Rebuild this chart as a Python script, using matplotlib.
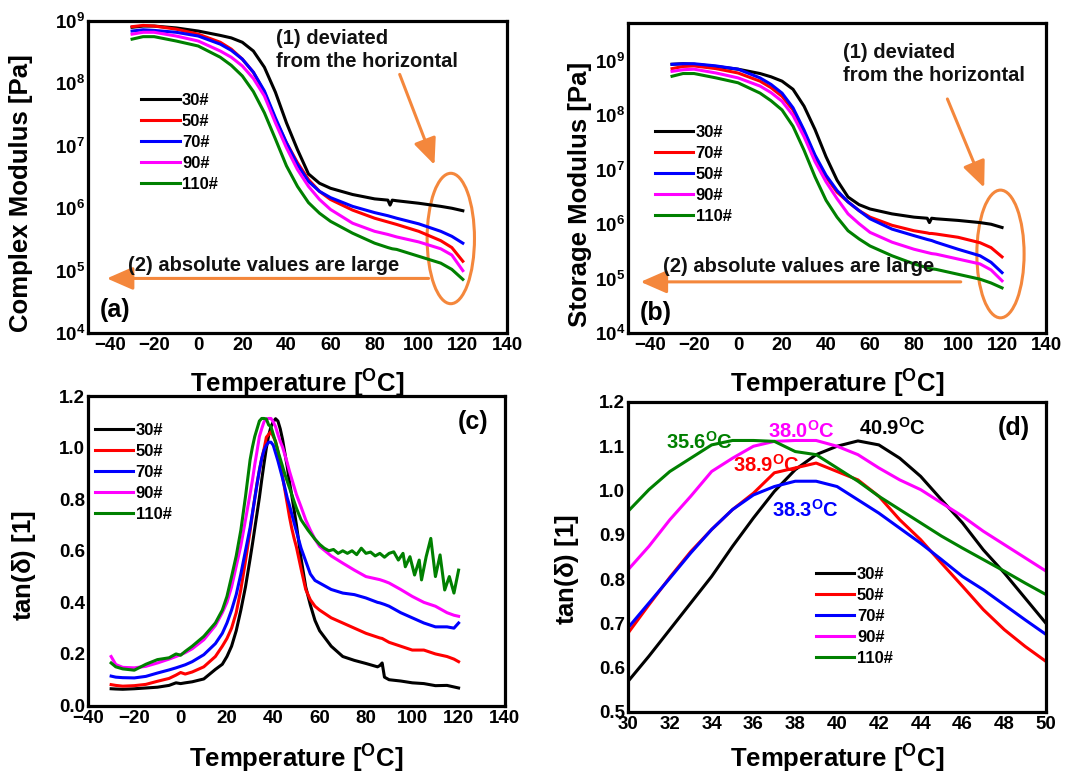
import numpy as np
import matplotlib
matplotlib.use('Agg')
import matplotlib.pyplot as plt
from matplotlib.patches import Ellipse
from matplotlib.ticker import FixedLocator, FuncFormatter, NullLocator

plt.rcParams['font.family'] = ['Liberation Sans', 'DejaVu Sans']
plt.rcParams['font.weight'] = 'bold'
plt.rcParams['axes.labelweight'] = 'bold'
plt.rcParams['mathtext.fontset'] = 'custom'
plt.rcParams['mathtext.rm'] = 'Liberation Sans:bold'
plt.rcParams['mathtext.bf'] = 'Liberation Sans:bold'
plt.rcParams['mathtext.it'] = 'Liberation Sans:bold'

# ---- data ----
samples = ['30#', '50#', '70#', '90#', '110#']
colors = ['#000000', '#ff0000', '#0000ff', '#ff00ff', '#008000']
labels_b = ['30#', '70#', '50#', '90#', '110#']   # legend order as printed in (b)

# temperature for modulus curves, degC
T_mod = [-30, -25, -20, -10, 0, 10, 15, 20, 25, 30, 35, 40, 45, 50, 55, 60, 70, 80,
         86, 87, 88, 90, 100, 110, 115, 120]

# (a) complex modulus, log10(Pa)
logG_30 = [8.90, 8.92, 8.92, 8.89, 8.84, 8.77, 8.73, 8.66, 8.52, 8.26, 7.86, 7.37, 6.94, 6.55,
           6.40, 6.32, 6.22, 6.15, 6.13, 6.05, 6.13, 6.12, 6.08, 6.03, 6.00, 5.96]
logG_50 = [8.91, 8.93, 8.92, 8.87, 8.79, 8.66, 8.55, 8.39, 8.18, 7.86, 7.42, 7.05, 6.73, 6.46,
           6.27, 6.14, 5.97, 5.84, 5.78, 5.77, 5.76, 5.74, 5.63, 5.48, 5.37, 5.15]
logG_70 = [8.84, 8.86, 8.85, 8.82, 8.76, 8.63, 8.53, 8.39, 8.18, 7.88, 7.45, 7.05, 6.70, 6.43,
           6.27, 6.17, 6.03, 5.93, 5.88, 5.87, 5.86, 5.84, 5.75, 5.63, 5.55, 5.44]
logG_90 = [8.79, 8.82, 8.82, 8.76, 8.68, 8.52, 8.42, 8.28, 8.08, 7.80, 7.37, 6.97, 6.62, 6.35,
           6.14, 5.98, 5.76, 5.63, 5.58, 5.57, 5.56, 5.54, 5.46, 5.35, 5.25, 5.00]
logG_110 = [8.71, 8.75, 8.75, 8.68, 8.60, 8.42, 8.29, 8.12, 7.87, 7.53, 7.11, 6.68, 6.35, 6.09,
            5.92, 5.79, 5.60, 5.44, 5.37, 5.36, 5.35, 5.34, 5.23, 5.12, 5.02, 4.86]

# (b) storage modulus, log10(Pa), in the same order as labels_b
logE_30 = [8.94, 8.95, 8.94, 8.90, 8.85, 8.77, 8.71, 8.63, 8.48, 8.17, 7.74, 7.24, 6.81, 6.50,
           6.36, 6.28, 6.19, 6.13, 6.11, 6.03, 6.11, 6.10, 6.07, 6.03, 6.00, 5.94]
logE_70 = [8.86, 8.90, 8.91, 8.86, 8.78, 8.63, 8.51, 8.35, 8.10, 7.70, 7.24, 6.87, 6.59, 6.41,
           6.25, 6.13, 5.98, 5.88, 5.84, 5.83, 5.83, 5.82, 5.76, 5.66, 5.57, 5.40]
logE_50 = [8.94, 8.95, 8.95, 8.91, 8.85, 8.69, 8.57, 8.41, 8.14, 7.73, 7.27, 6.90, 6.62, 6.41,
           6.25, 6.10, 5.91, 5.79, 5.72, 5.71, 5.70, 5.67, 5.54, 5.42, 5.30, 5.11]
logE_90 = [8.81, 8.84, 8.85, 8.78, 8.69, 8.54, 8.42, 8.26, 8.00, 7.61, 7.15, 6.78, 6.47, 6.19,
           6.01, 5.85, 5.67, 5.54, 5.48, 5.47, 5.46, 5.45, 5.36, 5.27, 5.16, 4.96]
logE_110 = [8.72, 8.77, 8.77, 8.69, 8.60, 8.41, 8.27, 8.10, 7.80, 7.36, 6.87, 6.44, 6.13, 5.88,
            5.73, 5.60, 5.42, 5.27, 5.20, 5.19, 5.18, 5.17, 5.08, 4.99, 4.92, 4.83]

# (d) tan(delta) around the peak, 1 degC steps
T_peak = list(range(30, 51))
tan_pk_30 = [0.569, 0.626, 0.686, 0.746, 0.806, 0.874, 0.938, 0.998, 1.047, 1.081, 1.100,
             1.112, 1.103, 1.073, 1.032, 0.979, 0.927, 0.866, 0.814, 0.757, 0.700]
tan_pk_50 = [0.678, 0.742, 0.804, 0.862, 0.912, 0.957, 0.994, 1.040, 1.051, 1.062, 1.043,
             1.024, 0.987, 0.934, 0.889, 0.836, 0.784, 0.731, 0.686, 0.648, 0.614]
tan_pk_70 = [0.690, 0.746, 0.802, 0.859, 0.912, 0.957, 0.990, 1.009, 1.021, 1.021, 1.009,
             0.979, 0.949, 0.915, 0.881, 0.844, 0.806, 0.776, 0.742, 0.708, 0.675]
tan_pk_90 = [0.821, 0.874, 0.934, 0.987, 1.043, 1.073, 1.100, 1.111, 1.113, 1.113, 1.100,
             1.081, 1.051, 1.024, 1.002, 0.972, 0.942, 0.908, 0.878, 0.848, 0.818]
tan_pk_110 = [0.953, 1.002, 1.043, 1.073, 1.103, 1.113, 1.113, 1.111, 1.088, 1.081, 1.051,
              1.021, 0.987, 0.957, 0.927, 0.897, 0.870, 0.844, 0.818, 0.791, 0.765]
peak_text = ['40.9', '38.9', '38.3', '38.0', '35.6']

# (c) tan(delta) below and above the peak window
T_low = [-30, -28, -25, -20, -15, -10, -5, -2, 0, 2, 5, 10, 15, 18, 20, 22, 24, 26, 28]
tan_lo_30 = [0.065, 0.064, 0.063, 0.065, 0.068, 0.071, 0.078, 0.088, 0.085, 0.088, 0.092,
             0.103, 0.140, 0.160, 0.190, 0.230, 0.290, 0.370, 0.460]
tan_lo_50 = [0.081, 0.078, 0.075, 0.077, 0.082, 0.094, 0.105, 0.118, 0.128, 0.122, 0.130,
             0.150, 0.190, 0.230, 0.260, 0.300, 0.360, 0.450, 0.560]
tan_lo_70 = [0.114, 0.110, 0.108, 0.107, 0.113, 0.126, 0.138, 0.146, 0.152, 0.158, 0.170,
             0.197, 0.240, 0.280, 0.320, 0.370, 0.430, 0.510, 0.600]
tan_lo_90 = [0.190, 0.159, 0.148, 0.146, 0.152, 0.165, 0.180, 0.190, 0.197, 0.205, 0.220,
             0.255, 0.310, 0.360, 0.400, 0.460, 0.540, 0.620, 0.720]
tan_lo_110 = [0.165, 0.150, 0.142, 0.137, 0.160, 0.178, 0.185, 0.200, 0.195, 0.210, 0.230,
              0.268, 0.320, 0.370, 0.423, 0.500, 0.580, 0.680, 0.810]

T_high = [52, 54, 56, 58, 60, 65, 70, 75, 80, 85, 86, 87, 88, 90, 95, 100, 105, 110, 115, 118, 120]
tan_hi_30 = [0.570, 0.460, 0.390, 0.330, 0.290, 0.230, 0.190, 0.175, 0.163, 0.150, 0.155,
             0.165, 0.110, 0.100, 0.095, 0.088, 0.085, 0.077, 0.078, 0.072, 0.068]
tan_hi_50 = [0.530, 0.450, 0.410, 0.385, 0.370, 0.340, 0.320, 0.300, 0.280, 0.265, 0.262,
             0.260, 0.255, 0.245, 0.230, 0.215, 0.215, 0.200, 0.190, 0.180, 0.170]
tan_hi_70 = [0.610, 0.560, 0.510, 0.485, 0.475, 0.450, 0.436, 0.430, 0.417, 0.400, 0.398,
             0.395, 0.392, 0.385, 0.360, 0.340, 0.320, 0.305, 0.305, 0.300, 0.320]
tan_hi_90 = [0.770, 0.720, 0.680, 0.645, 0.617, 0.580, 0.552, 0.525, 0.500, 0.490, 0.488,
             0.485, 0.482, 0.475, 0.450, 0.423, 0.400, 0.385, 0.360, 0.350, 0.346]
T_high_110 = [52, 55, 58, 60, 62, 64, 66, 68, 70, 72, 74, 76, 78, 80, 82, 84, 86, 88, 90, 92,
              94, 96, 97, 99, 101, 103, 104, 106, 108, 110, 112, 114, 116, 118, 120]
tan_hi_110 = [0.720, 0.680, 0.645, 0.625, 0.610, 0.600, 0.605, 0.590, 0.600, 0.590, 0.600,
              0.585, 0.610, 0.590, 0.595, 0.580, 0.590, 0.575, 0.590, 0.596, 0.564, 0.590,
              0.538, 0.577, 0.506, 0.564, 0.487, 0.577, 0.648, 0.500, 0.584, 0.448, 0.500,
              0.436, 0.525]

ORANGE = '#f4873c'
LW = 2.2


def style_axes(ax):
    for s in ax.spines.values():
        s.set_linewidth(2.3)
    ax.tick_params(axis='both', which='both', length=0, labelsize=13.5)
    ax.tick_params(axis='x', pad=3)
    ax.tick_params(axis='y', pad=2)


def add_legend(ax, labels, x, y):
    ax.legend(ax.get_lines()[:5], labels, loc='upper left', bbox_to_anchor=(x, y),
              frameon=False, fontsize=12, borderpad=0, borderaxespad=0,
              handlelength=2.3, handletextpad=0.15, labelspacing=0.36)


fig = plt.figure(figsize=(10.65, 7.77), dpi=100)
ax_a = fig.add_axes([0.0826, 0.5714, 0.3934, 0.4015])
ax_b = fig.add_axes([0.5897, 0.5714, 0.3925, 0.3990])
ax_c = fig.add_axes([0.0826, 0.0920, 0.3915, 0.3983])
ax_d = fig.add_axes([0.5897, 0.0837, 0.3925, 0.3990])

temp_label = r'Temperature [$^{\mathrm{O}}$C]'
pow_fmt = FuncFormatter(lambda v, p: r'$10^{%d}$' % round(np.log10(v)))

# ---- (a) complex modulus ----
for vals, c in zip([logG_30, logG_50, logG_70, logG_90, logG_110], colors):
    ax_a.plot(T_mod, 10 ** np.array(vals), color=c, lw=LW)
ax_a.set_yscale('log')
ax_a.set_xlim(-50, 140)
ax_a.set_ylim(1e4, 1e9)

# ---- (b) storage modulus ----
for vals, c in zip([logE_30, logE_70, logE_50, logE_90, logE_110], colors):
    ax_b.plot(T_mod, 10 ** np.array(vals), color=c, lw=LW)
ax_b.set_yscale('log')
ax_b.set_xlim(-50, 140)
ax_b.set_ylim(1e4, 5e9)

for ax in (ax_a, ax_b):
    ax.xaxis.set_major_locator(FixedLocator(range(-40, 141, 20)))
    ax.yaxis.set_major_locator(FixedLocator([1e4, 1e5, 1e6, 1e7, 1e8, 1e9]))
    ax.yaxis.set_minor_locator(NullLocator())
    ax.yaxis.set_major_formatter(pow_fmt)
    style_axes(ax)
    ax.set_xlabel(temp_label, fontsize=18.5)

ax_a.set_ylabel('Complex Modulus [Pa]', fontsize=18.5)
ax_b.set_ylabel('Storage Modulus [Pa]', fontsize=18.5)
ax_a.xaxis.set_label_coords(0.5, -0.112)
ax_b.xaxis.set_label_coords(0.5, -0.113)
ax_a.yaxis.set_label_coords(-0.131, 0.449)
ax_b.yaxis.set_label_coords(-0.086, 0.448)

add_legend(ax_a, samples, 0.127, 0.770)
add_legend(ax_b, labels_b, 0.064, 0.671)

# annotations on (a) and (b)
notes = {ax_a: dict(t1=(0.448, 0.975), arr=((0.744, 0.829), (0.827, 0.539)),
                    ell=(0.866, 0.303, 0.113, 0.418), harr=((0.813, 0.175), (0.045, 0.175)),
                    t2=(0.096, 0.218), tag=('(a)', 0.029, 0.073)),
         ax_b: dict(t1=(0.515, 0.935), arr=((0.764, 0.755), (0.852, 0.469)),
                    ell=(0.891, 0.255, 0.113, 0.412), harr=((0.796, 0.165), (0.030, 0.165)),
                    t2=(0.084, 0.216), tag=('(b)', 0.028, 0.065))}
for ax, n in notes.items():
    ax.text(n['t1'][0], n['t1'][1], '(1) deviated\nfrom the horizontal', transform=ax.transAxes,
            fontsize=14.5, ha='left', va='top', linespacing=1.25, color='#111111')
    ax.annotate('', xy=n['arr'][1], xytext=n['arr'][0], xycoords='axes fraction',
                arrowprops=dict(arrowstyle='-|>,head_length=0.8,head_width=0.35', color=ORANGE,
                                lw=2.2, mutation_scale=20, shrinkA=0, shrinkB=0))
    cx, cy, w, h = n['ell']
    ax.add_patch(Ellipse((cx, cy), w, h, transform=ax.transAxes, fill=False,
                         edgecolor=ORANGE, lw=2.2))
    ax.annotate('', xy=n['harr'][1], xytext=n['harr'][0], xycoords='axes fraction',
                arrowprops=dict(arrowstyle='-|>,head_length=0.8,head_width=0.35', color=ORANGE,
                                lw=2.2, mutation_scale=20, shrinkA=0, shrinkB=0))
    ax.text(n['t2'][0], n['t2'][1], '(2) absolute values are large', transform=ax.transAxes,
            fontsize=14.5, ha='left', va='center', color='#111111')
    tag, tx, ty = n['tag']
    ax.text(tx, ty, tag, transform=ax.transAxes, fontsize=18, ha='left', va='center')

# ---- (c) tan(delta) full range ----
lows = [tan_lo_30, tan_lo_50, tan_lo_70, tan_lo_90, tan_lo_110]
peaks = [tan_pk_30, tan_pk_50, tan_pk_70, tan_pk_90, tan_pk_110]
highs = [tan_hi_30, tan_hi_50, tan_hi_70, tan_hi_90, tan_hi_110]
for i in range(5):
    t_hi = T_high_110 if i == 4 else T_high
    x = np.concatenate([T_low, T_peak, t_hi])
    y = np.concatenate([lows[i], peaks[i], highs[i]])
    ax_c.plot(x, y, color=colors[i], lw=LW)
ax_c.set_xlim(-40, 140)
ax_c.set_ylim(0, 1.2)
ax_c.xaxis.set_major_locator(FixedLocator(range(-40, 141, 20)))
ax_c.yaxis.set_major_locator(FixedLocator(np.arange(0, 1.21, 0.2)))
ax_c.yaxis.set_major_formatter(FuncFormatter(lambda v, p: '%.1f' % v))
add_legend(ax_c, samples, 0.0165, 0.912)
ax_c.text(0.887, 0.917, '(c)', transform=ax_c.transAxes, fontsize=18, ha='left', va='center')

# ---- (d) tan(delta) near the peak ----
for vals, c in zip(peaks, colors):
    ax_d.plot(T_peak, vals, color=c, lw=LW)
ax_d.set_xlim(30, 50)
ax_d.set_ylim(0.5, 1.2)
ax_d.xaxis.set_major_locator(FixedLocator(range(30, 51, 2)))
ax_d.yaxis.set_major_locator(FixedLocator(np.arange(0.5, 1.21, 0.1)))
ax_d.yaxis.set_major_formatter(FuncFormatter(lambda v, p: '%.1f' % v))
add_legend(ax_d, samples, 0.450, 0.468)
ax_d.text(47.7, 1.141, '(d)', fontsize=18, ha='left', va='center')

peak_pos = [(41.07, 1.141), (35.03, 1.058), (36.87, 0.957), (36.7, 1.134), (31.8, 1.111)]
for txt, (px, py), c in zip(peak_text, peak_pos, colors):
    ax_d.text(px, py, txt + r'$^{\mathrm{O}}$C', color=c, fontsize=14.5, ha='left', va='center')

for ax in (ax_c, ax_d):
    style_axes(ax)
    ax.set_xlabel(temp_label, fontsize=18.5)
    ax.set_ylabel(r'tan($\delta$) [1]', fontsize=18.5)
ax_c.xaxis.set_label_coords(0.5, -0.121)
ax_d.xaxis.set_label_coords(0.5, -0.100)
ax_c.yaxis.set_label_coords(-0.12, 0.451)
ax_d.yaxis.set_label_coords(-0.112, 0.458)

fig.savefig('out.png', dpi=100)
